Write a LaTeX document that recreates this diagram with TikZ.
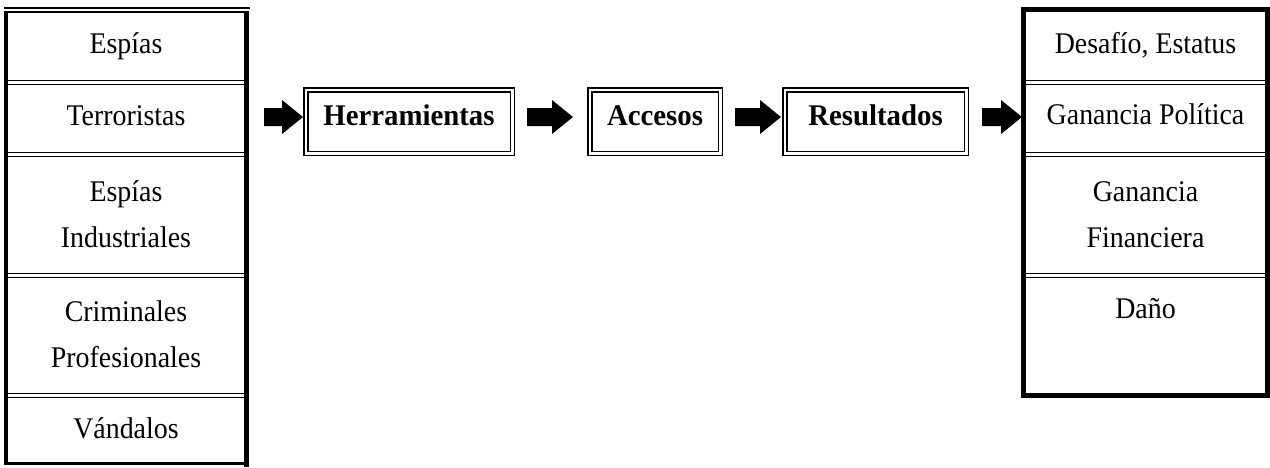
\documentclass[tikz,border=0pt]{standalone}
\usepackage{fontspec}
\setmainfont{Liberation Serif}[FakeStretch=0.93,BoldFeatures={FakeStretch=0.96}]
\usetikzlibrary{calc}
\newcommand\blockarrow[2]{\fill let \p1=(#1),\p2=(#2) in
  (\x1,{\y2+9pt}) -- ({\x2-21pt},{\y2+9pt}) -- ({\x2-21pt},{\y2+17pt}) -- (\x2,\y2)
  -- ({\x2-21pt},{\y2-17pt}) -- ({\x2-21pt},{\y2-9pt}) -- (\x1,{\y2-9pt}) -- cycle;}
\begin{document}
\begin{tikzpicture}[x=1pt,y=-1pt,
  cell/.style={anchor=base,inner sep=0pt,align=center,font=\fontsize{30}{46}\selectfont},
  midbox/.style={draw,double,line width=1.5pt,double distance=2.5pt,inner sep=0pt,outer sep=0pt,
    text height=20pt,text depth=13pt,minimum height=63.5pt,font=\bfseries\fontsize{30}{36}\selectfont},
  rulel/.style={line width=1.8pt},
  frame/.style={line width=5pt}]
\useasboundingbox (0,0) rectangle (1270,467);
% left table
\fill (4,12) rectangle (8,465);
\fill (244,12) rectangle (249,467);
\fill (4,462) rectangle (244,465);
\fill (4,6.5) rectangle (250,8.5);
\fill (4,11) rectangle (249,13);
\foreach \yy in {80.5,152.5,273.5,393.5}{
  \draw[rulel] (8,\yy) -- (244,\yy) (8,\yy+4) -- (244,\yy+4);}
% right table
\draw[frame] (1023.5,9.5) rectangle (1267.5,395.5);
\foreach \yy in {80.5,152.5,273.5}{
  \draw[rulel] (1026,\yy) -- (1265,\yy) (1026,\yy+4) -- (1265,\yy+4);}
% texts
\node[cell] (espias) at (126,53) {Espías};
\node[cell] (terr) at (126,125) {Terroristas};
\node[cell] (espind) at (126,247) {Espías\\Industriales};
\node[cell] (crim) at (126,367) {Criminales\\Profesionales};
\node[cell] (vand) at (126,438) {Vándalos};
\node[cell] (desafio) at (1145.5,53) {Desafío, Estatus};
\node[cell] (gpol) at (1145.5,124) {Ganancia Política};
\node[cell] (gfin) at (1145.5,247) {Ganancia\\Financiera};
\node[cell] (dano) at (1145.5,318) {Daño};
% middle boxes
\node[midbox,minimum width=206.5pt] (herr) at (409,121.5) {Herramientas};
\node[midbox,minimum width=130.5pt] (acc) at (655,121.5) {Accesos};
\node[midbox,minimum width=181.5pt] (res) at (875.5,121.5) {Resultados};
% arrows
\coordinate (a1s) at (264,117); \coordinate (a1t) at (303,117);
\coordinate (a2s) at (527,117); \coordinate (a2t) at (573,117);
\coordinate (a3s) at (735,117); \coordinate (a3t) at (781,117);
\coordinate (a4s) at (982,117); \coordinate (a4t) at (1022,117);
\blockarrow{a1s}{a1t}
\blockarrow{a2s}{a2t}
\blockarrow{a3s}{a3t}
\blockarrow{a4s}{a4t}
\end{tikzpicture}
\end{document}
